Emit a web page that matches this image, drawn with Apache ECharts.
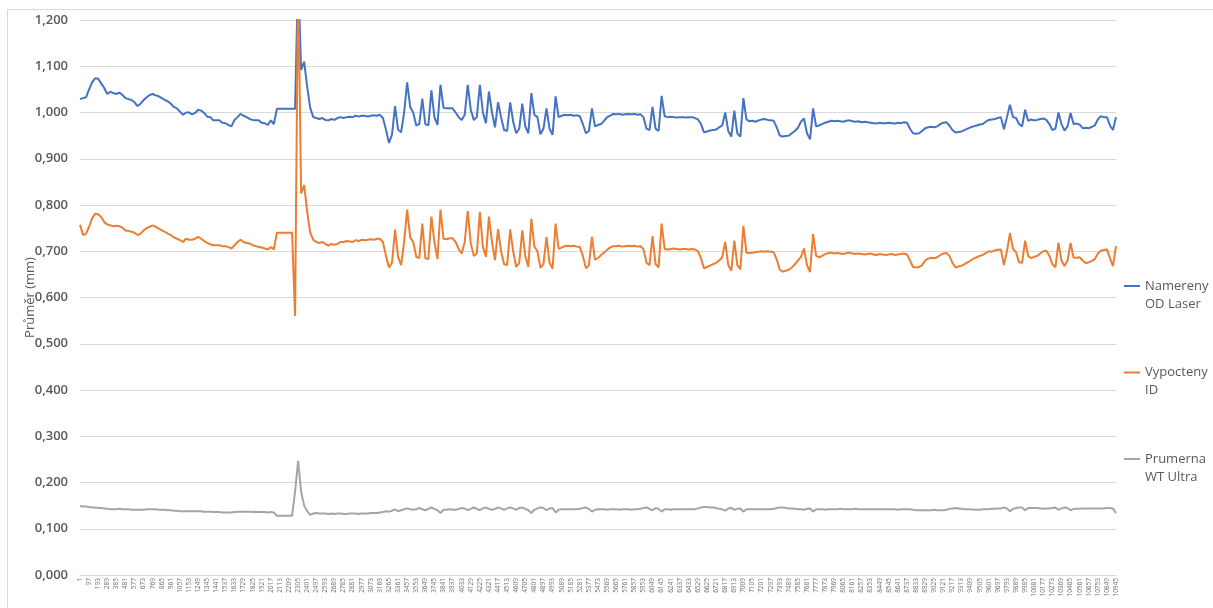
<!DOCTYPE html>
<html>
<head>
<meta charset="utf-8">
<script src="https://cdn.jsdelivr.net/npm/echarts@6/dist/echarts.min.js"></script>
<style>html,body{margin:0;padding:0;background:#fff}#c{width:1213px;height:608px}</style>
</head>
<body>
<div id="c"></div>
<script>
// category axis: sample number, every 32nd measurement
const xStart = 1;
const xStep = 32;

// Namereny OD Laser
const blueOD = [
1.029,1.031,1.033,1.05,1.065,1.074,1.073,1.063,1.053,1.04,
1.045,1.042,1.04,1.043,1.038,1.031,1.029,1.027,1.022,1.014,
1.019,1.027,1.033,1.038,1.04,1.037,1.035,1.031,1.027,1.024,
1.019,1.012,1.009,1.002,0.995,1.0,1.0,0.996,0.999,1.006,
1.004,0.999,0.991,0.99,0.983,0.983,0.983,0.978,0.977,0.973,
0.97,0.984,0.99,0.997,0.993,0.99,0.986,0.984,0.983,0.983,
0.978,0.977,0.973,0.983,0.975,1.008,1.008,1.008,1.008,1.008,
1.008,1.008,1.3,1.092,1.11,1.055,1.01,0.99,0.988,0.986,
0.988,0.984,0.983,0.986,0.984,0.988,0.99,0.988,0.99,0.991,
0.99,0.993,0.991,0.993,0.993,0.991,0.993,0.994,0.993,0.995,
0.988,0.963,0.934,0.952,1.014,0.963,0.957,1.0,1.065,1.012,
1.0,0.972,0.975,1.03,0.975,0.972,1.048,0.99,0.973,1.06,
1.01,1.009,1.009,1.009,1.0,0.99,0.984,0.995,1.06,1.006,
0.984,0.99,1.06,1.0,0.977,1.045,1.0,0.968,1.022,0.99,
0.962,0.96,1.022,0.98,0.955,0.965,1.019,0.97,0.955,1.042,
0.995,0.99,0.953,0.965,1.009,0.965,0.952,1.035,0.99,0.993,
0.995,0.994,0.995,0.993,0.994,0.992,0.975,0.955,0.96,1.009,
0.97,0.973,0.975,0.982,0.99,0.993,0.997,0.996,0.997,0.995,
0.996,0.997,0.996,0.997,0.995,0.996,0.99,0.965,0.962,1.012,
0.965,0.96,1.036,0.992,0.99,0.991,0.99,0.989,0.99,0.99,
0.989,0.99,0.99,0.988,0.985,0.975,0.957,0.959,0.961,0.962,
0.963,0.968,0.972,1.0,0.96,0.948,1.004,0.955,0.948,1.031,
0.985,0.981,0.982,0.98,0.983,0.985,0.986,0.984,0.983,0.982,
0.968,0.95,0.948,0.949,0.95,0.955,0.96,0.967,0.98,0.987,
0.955,0.942,1.009,0.97,0.972,0.975,0.978,0.98,0.982,0.981,
0.982,0.981,0.98,0.982,0.983,0.981,0.98,0.981,0.979,0.98,
0.979,0.978,0.977,0.976,0.978,0.977,0.977,0.978,0.977,0.976,
0.978,0.977,0.979,0.978,0.965,0.955,0.954,0.955,0.96,0.966,
0.968,0.969,0.968,0.97,0.975,0.978,0.979,0.972,0.962,0.957,
0.958,0.959,0.962,0.965,0.968,0.97,0.972,0.974,0.975,0.98,
0.984,0.985,0.986,0.988,0.99,0.964,0.99,1.017,0.99,0.988,
0.975,0.97,1.006,0.982,0.985,0.983,0.984,0.986,0.987,0.984,
0.975,0.962,0.965,1.0,0.975,0.961,0.97,0.999,0.975,0.976,
0.974,0.966,0.967,0.966,0.969,0.972,0.985,0.992,0.99,0.99,
0.972,0.962,0.99
];

// Vypocteny ID
const orangeID = [
0.757,0.735,0.738,0.753,0.771,0.781,0.78,0.774,0.763,0.758,
0.756,0.754,0.755,0.754,0.751,0.745,0.744,0.742,0.74,0.735,
0.738,0.745,0.75,0.753,0.756,0.753,0.749,0.745,0.742,0.738,
0.735,0.73,0.727,0.724,0.72,0.727,0.725,0.725,0.727,0.731,
0.727,0.722,0.718,0.715,0.713,0.713,0.713,0.711,0.711,0.709,
0.706,0.713,0.72,0.725,0.72,0.718,0.717,0.713,0.711,0.709,
0.708,0.706,0.704,0.709,0.704,0.74,0.74,0.74,0.74,0.74,
0.74,0.56,1.3,0.825,0.843,0.785,0.74,0.725,0.72,0.718,
0.72,0.716,0.712,0.716,0.714,0.716,0.72,0.72,0.722,0.721,
0.72,0.724,0.722,0.725,0.724,0.725,0.726,0.725,0.727,0.727,
0.72,0.69,0.665,0.675,0.747,0.688,0.67,0.72,0.79,0.73,
0.72,0.688,0.685,0.76,0.685,0.683,0.775,0.72,0.683,0.79,
0.727,0.726,0.728,0.728,0.72,0.705,0.695,0.72,0.787,0.717,
0.69,0.695,0.785,0.71,0.688,0.775,0.72,0.681,0.748,0.7,
0.672,0.67,0.747,0.7,0.666,0.675,0.745,0.69,0.666,0.77,
0.71,0.7,0.664,0.672,0.731,0.675,0.662,0.76,0.705,0.708,
0.711,0.712,0.711,0.712,0.71,0.709,0.69,0.663,0.67,0.731,
0.682,0.685,0.692,0.697,0.703,0.708,0.711,0.711,0.712,0.71,
0.711,0.712,0.711,0.712,0.71,0.711,0.705,0.675,0.67,0.733,
0.672,0.665,0.76,0.705,0.704,0.705,0.706,0.705,0.704,0.705,
0.705,0.704,0.705,0.704,0.7,0.685,0.663,0.666,0.669,0.672,
0.675,0.68,0.687,0.72,0.67,0.658,0.723,0.67,0.661,0.755,
0.697,0.696,0.697,0.698,0.699,0.7,0.699,0.7,0.699,0.698,
0.682,0.66,0.656,0.658,0.66,0.665,0.672,0.68,0.688,0.706,
0.67,0.655,0.737,0.69,0.687,0.69,0.694,0.696,0.697,0.695,
0.696,0.695,0.694,0.696,0.697,0.695,0.694,0.695,0.694,0.693,
0.694,0.695,0.693,0.692,0.694,0.693,0.692,0.693,0.694,0.692,
0.693,0.694,0.695,0.693,0.68,0.666,0.665,0.666,0.67,0.68,
0.684,0.686,0.685,0.687,0.692,0.695,0.696,0.69,0.675,0.665,
0.667,0.669,0.672,0.676,0.68,0.684,0.687,0.69,0.692,0.696,
0.7,0.699,0.702,0.703,0.704,0.67,0.7,0.739,0.705,0.698,
0.676,0.675,0.723,0.69,0.685,0.688,0.69,0.695,0.7,0.701,
0.69,0.672,0.665,0.718,0.68,0.668,0.68,0.718,0.686,0.686,
0.687,0.68,0.674,0.676,0.679,0.683,0.695,0.701,0.703,0.704,
0.685,0.668,0.711
];

// Prumerna WT Ultra
const grayWT = [
0.149,0.148,0.148,0.147,0.146,0.146,0.145,0.145,0.144,0.143,
0.142,0.142,0.142,0.143,0.142,0.142,0.142,0.141,0.141,0.141,
0.141,0.141,0.142,0.142,0.142,0.142,0.141,0.141,0.141,0.14,
0.14,0.139,0.139,0.138,0.138,0.138,0.138,0.138,0.138,0.138,
0.138,0.137,0.137,0.137,0.136,0.136,0.136,0.135,0.135,0.135,
0.135,0.136,0.137,0.137,0.137,0.137,0.137,0.136,0.137,0.136,
0.136,0.136,0.135,0.136,0.135,0.128,0.128,0.128,0.128,0.128,
0.128,0.18,0.247,0.18,0.15,0.138,0.13,0.133,0.134,0.133,
0.133,0.133,0.132,0.133,0.132,0.133,0.133,0.132,0.132,0.133,
0.133,0.133,0.132,0.133,0.133,0.133,0.134,0.134,0.134,0.135,
0.136,0.138,0.137,0.139,0.142,0.138,0.14,0.142,0.144,0.142,
0.141,0.142,0.145,0.142,0.14,0.143,0.146,0.143,0.14,0.134,
0.141,0.141,0.142,0.141,0.141,0.143,0.145,0.144,0.14,0.143,
0.146,0.143,0.14,0.144,0.146,0.143,0.141,0.143,0.146,0.144,
0.141,0.144,0.146,0.144,0.141,0.145,0.146,0.143,0.14,0.134,
0.141,0.144,0.146,0.145,0.14,0.144,0.145,0.135,0.141,0.142,
0.142,0.142,0.142,0.142,0.142,0.143,0.145,0.146,0.143,0.137,
0.141,0.142,0.142,0.142,0.141,0.142,0.142,0.142,0.141,0.142,
0.142,0.142,0.141,0.142,0.142,0.143,0.145,0.146,0.143,0.14,
0.145,0.143,0.137,0.142,0.142,0.141,0.142,0.142,0.142,0.142,
0.142,0.142,0.142,0.142,0.144,0.146,0.147,0.147,0.146,0.146,
0.145,0.143,0.142,0.139,0.144,0.145,0.141,0.143,0.144,0.137,
0.142,0.142,0.142,0.142,0.142,0.142,0.142,0.142,0.142,0.143,
0.145,0.146,0.146,0.145,0.144,0.144,0.143,0.142,0.142,0.141,
0.143,0.144,0.137,0.142,0.142,0.142,0.141,0.142,0.142,0.142,
0.142,0.143,0.142,0.142,0.142,0.142,0.143,0.142,0.142,0.142,
0.142,0.142,0.142,0.142,0.142,0.142,0.142,0.142,0.142,0.142,
0.141,0.142,0.142,0.142,0.142,0.141,0.14,0.14,0.14,0.14,
0.14,0.14,0.141,0.14,0.14,0.14,0.141,0.143,0.144,0.145,
0.144,0.143,0.142,0.142,0.142,0.141,0.141,0.141,0.142,0.142,
0.142,0.143,0.143,0.144,0.144,0.146,0.144,0.138,0.143,0.145,
0.146,0.146,0.14,0.145,0.145,0.145,0.145,0.144,0.143,0.144,
0.144,0.145,0.146,0.141,0.144,0.146,0.145,0.14,0.143,0.143,
0.143,0.144,0.144,0.144,0.144,0.144,0.144,0.144,0.144,0.145,
0.145,0.144,0.134
];

const seriesNames = ['Namereny\nOD Laser', 'Vypocteny\nID', 'Prumerna\nWT Ultra'];
const seriesColors = ['#4472C4', '#ED7D31', '#A5A5A5'];
const yTitle = 'Průměr (mm)';

const categories = blueOD.map((_, k) => String(xStart + k * xStep));

// legend icon: short line aligned with the first text line (tiny invisible corners set the box)
const legendIcon = 'path://M0,0L0.01,0L0,0.01Z M0,8L16,8L16,10L0,10Z M0,36L0.01,36L0,35.99Z';

const chart = echarts.init(document.getElementById('c'), null, {renderer: 'canvas'});
const font = 'Open Sans';
chart.setOption({
  animation: false,
  backgroundColor: '#ffffff',
  graphic: [{
    type: 'rect', silent: true, z: -10,
    shape: {x: 7.5, y: 9.5, width: 1300, height: 700},
    style: {fill: 'none', stroke: '#d9d9d9', lineWidth: 1}
  }],
  grid: {left: 80, right: 97, top: 20, bottom: 33, containLabel: false},
  legend: {
    orient: 'vertical', left: 1119, top: 272, itemGap: 50.5,
    icon: legendIcon, itemWidth: 16, itemHeight: 36,
    textStyle: {fontFamily: font, fontSize: 13, color: '#595959', lineHeight: 18},
    data: seriesNames
  },
  xAxis: {
    type: 'category', data: categories, boundaryGap: false,
    axisLine: {lineStyle: {color: '#d9d9d9'}},
    axisTick: {show: false},
    axisLabel: {interval: 2, rotate: 90, fontSize: 6.5, color: '#6f6f6f', margin: 3, fontFamily: font},
    splitLine: {show: false}
  },
  yAxis: {
    type: 'value', min: 0, max: 1.2, interval: 0.1,
    name: yTitle, nameLocation: 'middle', nameGap: 43, nameMoveOverlap: false,
    nameTextStyle: {fontFamily: font, fontSize: 13, color: '#595959'},
    axisLine: {show: false}, axisTick: {show: false},
    axisLabel: {formatter: v => v.toFixed(3).replace('.', ','), fontFamily: font, fontSize: 13, fontWeight: 600, color: '#595959', margin: 12},
    splitLine: {lineStyle: {color: '#d9d9d9'}}
  },
  series: [
    {name: seriesNames[0], type: 'line', data: blueOD, showSymbol: false, clip: true, color: seriesColors[0], lineStyle: {width: 2}},
    {name: seriesNames[1], type: 'line', data: orangeID, showSymbol: false, clip: true, color: seriesColors[1], lineStyle: {width: 2}},
    {name: seriesNames[2], type: 'line', data: grayWT, showSymbol: false, clip: true, color: seriesColors[2], lineStyle: {width: 2}}
  ]
});
</script>
</body>
</html>
